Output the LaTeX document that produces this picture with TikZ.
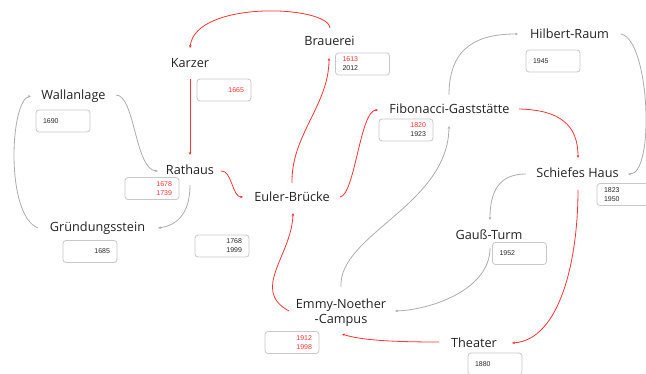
\documentclass[tikz,border=0pt]{standalone}
\usepackage{fontspec}
\setmainfont{Open Sans}
\newfontfamily\numfont{Liberation Sans}
\usetikzlibrary{arrows.meta,calc}
\definecolor{linkred}{RGB}{255,51,51}
\definecolor{linkgray}{RGB}{172,172,172}
\definecolor{boxgray}{RGB}{200,200,200}
\definecolor{labeltext}{RGB}{35,35,35}
\definecolor{numtext}{RGB}{40,40,40}
\begin{document}
\begin{tikzpicture}[x=1pt,y=-1pt,
  place/.style={font=\fontsize{12.7}{15}\selectfont, text=labeltext,
    inner sep=0pt, text height=9pt, text depth=0pt},
  twoline/.style={font=\fontsize{12.7}{15}\selectfont, text=labeltext,
    inner sep=0pt, align=center},
  datebox/.style={draw=boxgray, line width=0.8pt, rounded corners=3pt,
    fill=white, minimum width=54pt, minimum height=22pt, text width=40pt,
    inner xsep=7pt, inner ysep=0pt, text=numtext,
    font=\numfont\fontsize{7}{9}\selectfont},
  lbox/.style={datebox, align=left},
  rbox/.style={datebox, align=right},
  redlink/.style={draw=linkred, line width=0.8pt,
    -{Stealth[length=3pt,width=2.6pt]}},
  graylink/.style={draw=linkgray, line width=0.8pt,
    -{Stealth[length=3pt,width=2.6pt]}}
]
\useasboundingbox (0,0) rectangle (646,374);

% place names
\node[place] (brauerei) at (329.5,41) {Brauerei};
\node[place] (karzer)   at (190,63)   {Karzer};
\node[place] (wall)     at (73.5,95)  {Wallanlage};
\node[place] (rathaus)  at (190,170)  {Rathaus};
\node[place] (euler)    at (292,197)  {Euler-Brücke};
\node[place] (grund)    at (97.5,227) {Gründungsstein};
\node[place] (fib)      at (449.5,109){Fibonacci-Gaststätte};
\node[place] (hilbert)  at (569.5,34) {Hilbert-Raum};
\node[place] (schief)   at (577.5,173){Schiefes Haus};
\node[place] (gauss)    at (489,235)  {Gauß-Turm};
\node[twoline] (emmy)   at (341,312.5){Emmy-Noether\\-Campus};
\node[place] (theater)  at (474,343)  {Theater};

% date boxes
\node[rbox] (dkarzer)   at (224,90)    {\textcolor{linkred}{1665}};
\node[lbox] (dwall)     at (63,121)    {1690};
\node[lbox] (dbrauerei) at (362.5,64)  {\textcolor{linkred}{1613}\\2012};
\node[lbox] (dhilbert)  at (553,61)    {1945};
\node[rbox] (dfib)      at (406,130)   {\textcolor{linkred}{1820}\\1923};
\node[rbox] (drathaus)  at (152,188.5) {\textcolor{linkred}{1678}\\\textcolor{linkred}{1739}};
\node[rbox] (deuler)    at (222,246)   {1768\\1999};
\node[rbox] (dgrund)    at (90,251.5)  {1685};
\node[rbox] (demmy)     at (292,342.5) {\textcolor{linkred}{1912}\\\textcolor{linkred}{1998}};
\node[lbox] (dgauss)    at (519.5,253.5) {1952};
\node[lbox] (dtheater)  at (495,364)   {1880};
\node[lbox] (dschief)   at (624,194.5) {1823\\1950};

% red connections
\draw[redlink] ($(brauerei)+(0.5,-13)$) .. controls +(-2,-23) and +(5,-48) .. ($(karzer)+(0,-15)$);
\draw[redlink] ($(karzer)+(0,16)$) -- ($(rathaus)+(0,-15)$);
\draw[redlink] ($(rathaus)+(31,1)$) .. controls +(11,-1) and +(-11,0) .. ($(euler)+(-49,0)$);
\draw[redlink] ($(euler)+(0,-14)$) .. controls +(-1,-48) and +(0,47) .. ($(brauerei)+(-0.5,17)$);
\draw[redlink] ($(euler)+(48,0)$) .. controls +(15,-2) and +(-18,0) .. ($(fib)+(-71.5,1)$);
\draw[redlink] ($(emmy)+(-52,-1.5)$) .. controls +(-39,-21) and +(-1,42) .. ($(euler)+(1,16)$);
\draw[redlink] ($(fib)+(69.5,0)$) .. controls +(41,1) and +(0,-33) .. ($(schief)+(0.5,-15)$);
\draw[redlink] ($(schief)+(0.5,17)$) .. controls +(0,70) and +(48,-3) .. ($(theater)+(38,0)$);
\draw[redlink] ($(theater)+(-35,-1)$) .. controls +(-49,0) and +(18,6) .. ($(emmy)+(1,21.5)$);

% grey connections
\draw[graylink] ($(wall)+(42.5,0)$) .. controls +(19,0) and +(-23,-1) .. ($(rathaus)+(-32,1)$);
\draw[graylink] ($(grund)+(-59.5,1)$) .. controls +(-33,-13) and +(-21,4) .. ($(wall)+(-42.5,1)$);
\draw[graylink] ($(rathaus)+(0,15)$) .. controls +(0,25) and +(22,-3) .. ($(grund)+(60.5,1)$);
\draw[graylink] ($(fib)+(-0.5,-14)$) .. controls +(0,-50) and +(-38,0) .. ($(hilbert)+(-51.5,0)$);
\draw[graylink] ($(hilbert)+(51.5,0)$) .. controls +(29,6) and +(27,1) .. ($(schief)+(50.5,1)$);
\draw[graylink] ($(schief)+(-51.5,1)$) .. controls +(-26,0) and +(0,-30) .. ($(gauss)+(1,-15)$);
\draw[graylink] ($(gauss)+(1,13)$) .. controls +(0,42) and +(35,-1) .. ($(emmy)+(54,-1.5)$);
\draw[graylink] ($(emmy)+(0,-25.5)$) .. controls +(-3,-52) and +(-1,79) .. ($(fib)+(-0.5,17)$);
\end{tikzpicture}
\end{document}
